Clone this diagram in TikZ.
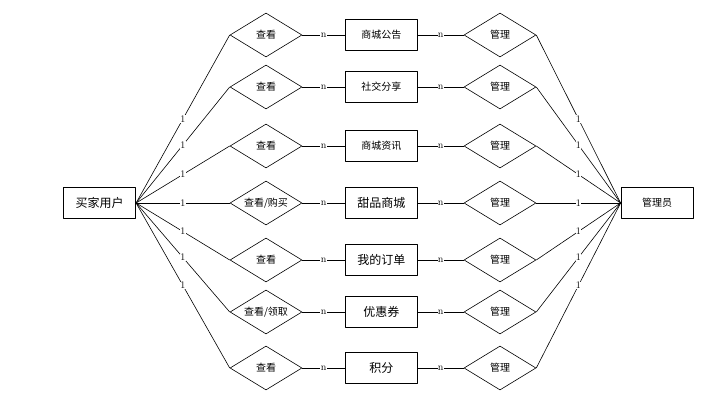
\documentclass[tikz,border=0pt]{standalone}
\usepackage{fontspec}
\newfontfamily\cjk{Noto Sans CJK SC}
\usetikzlibrary{shapes.geometric}

\begin{document}
\begin{tikzpicture}[line join=bevel,line width=0.6bp,
  entity/.style={draw,line width=0.8bp,minimum width=72bp,minimum height=31bp,inner sep=0pt,font=\cjk\fontsize{10bp}{12bp}\selectfont},
  rel/.style={draw,diamond,aspect=1.636,minimum width=72bp,minimum height=44bp,inner sep=0pt,font=\cjk\fontsize{10bp}{12bp}\selectfont},
  big/.style={font=\cjk\fontsize{12bp}{14bp}\selectfont},
  card/.style={fill=white,inner sep=0.4bp,font=\fontsize{10bp}{11bp}\selectfont}]
%%
\useasboundingbox (0bp,0bp) rectangle (721bp,414bp);
\node (u) at (99.7bp,211bp) [entity,big] {买家用户};
  \node (m) at (657bp,211bp) [entity] {管理员};
  \node (a1) at (266bp,379bp) [rel] {查看};
  \node (a2) at (266bp,327bp) [rel] {查看};
  \node (a3) at (266bp,268bp) [rel] {查看};
  \node (a4) at (266bp,211bp) [rel] {查看/购买};
  \node (a5) at (266bp,154bp) [rel] {查看};
  \node (a6) at (266bp,102bp) [rel] {查看/领取};
  \node (a7) at (266bp,46bp) [rel] {查看};
  \node (e1) at (381.3bp,379bp) [entity] {商城公告};
  \node (e2) at (381.3bp,327bp) [entity] {社交分享};
  \node (e3) at (381.3bp,268bp) [entity] {商城资讯};
  \node (e4) at (381.3bp,211bp) [entity,big] {甜品商城};
  \node (e5) at (381.3bp,154bp) [entity,big] {我的订单};
  \node (e6) at (381.3bp,102bp) [entity,big] {优惠券};
  \node (e7) at (381.3bp,46bp) [entity,big] {积分};
  \node (r1) at (500bp,379bp) [rel] {管理};
  \node (r2) at (500bp,327bp) [rel] {管理};
  \node (r3) at (500bp,268bp) [rel] {管理};
  \node (r4) at (500bp,211bp) [rel] {管理};
  \node (r5) at (500bp,154bp) [rel] {管理};
  \node (r6) at (500bp,102bp) [rel] {管理};
  \node (r7) at (500bp,46bp) [rel] {管理};
  \draw (u.east) -- node[card] {1} (a1.west);
  \draw (u.east) -- node[card] {1} (a2.west);
  \draw (u.east) -- node[card] {1} (a3.west);
  \draw (u.east) -- node[card] {1} (a4.west);
  \draw (u.east) -- node[card] {1} (a5.west);
  \draw (u.east) -- node[card] {1} (a6.west);
  \draw (u.east) -- node[card] {1} (a7.west);
  \draw (a1.east) -- node[card] {n} (e1.west);
  \draw (a2.east) -- node[card] {n} (e2.west);
  \draw (a3.east) -- node[card] {n} (e3.west);
  \draw (a4.east) -- node[card] {n} (e4.west);
  \draw (a5.east) -- node[card] {n} (e5.west);
  \draw (a6.east) -- node[card] {n} (e6.west);
  \draw (a7.east) -- node[card] {n} (e7.west);
  \draw (e1.east) -- node[card] {n} (r1.west);
  \draw (e2.east) -- node[card] {n} (r2.west);
  \draw (e3.east) -- node[card] {n} (r3.west);
  \draw (e4.east) -- node[card] {n} (r4.west);
  \draw (e5.east) -- node[card] {n} (r5.west);
  \draw (e6.east) -- node[card] {n} (r6.west);
  \draw (e7.east) -- node[card] {n} (r7.west);
  \draw (r1.east) -- node[card] {1} (m.west);
  \draw (r2.east) -- node[card] {1} (m.west);
  \draw (r3.east) -- node[card] {1} (m.west);
  \draw (r4.east) -- node[card] {1} (m.west);
  \draw (r5.east) -- node[card] {1} (m.west);
  \draw (r6.east) -- node[card] {1} (m.west);
  \draw (r7.east) -- node[card] {1} (m.west);
%
\end{tikzpicture}
\end{document}
